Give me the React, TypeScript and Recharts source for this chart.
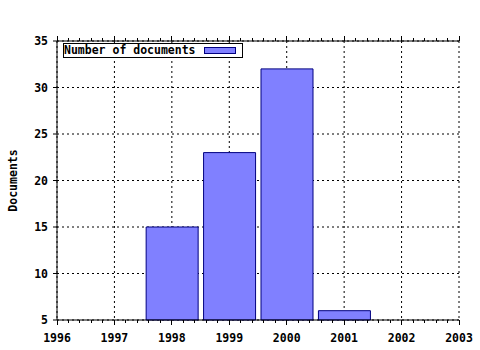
import { BarChart, Bar, XAxis, YAxis, CartesianGrid, Legend } from "recharts";

const years = [1998, 1999, 2000, 2001];
const documents = [15, 23, 32, 6];
const yearTicks = [1996, 1997, 1998, 1999, 2000, 2001, 2002, 2003];
const docTicks = [5, 10, 15, 20, 25, 30, 35];
const minorSteps = [0, 1, 2, 3, 4];

const data = years.map((year, i) => ({ year, documents: documents[i] }));
// major + 4 minor ticks per year for the framed axes
const frameTicks = yearTicks.flatMap((y, i) =>
  i === yearTicks.length - 1 ? [y] : minorSteps.map((k) => y + k / 5)
);

const font = {
  fontFamily: "'DejaVu Sans Mono', monospace",
  fontWeight: "bold" as const,
  fontSize: 11.5,
};

const BottomTick = (props: any) => {
  const { x, y, payload } = props;
  const major = Number.isInteger(payload.value);
  return (
    <g>
      <line x1={x} x2={x} y1={y} y2={y + (major ? 5 : 3)} stroke="#000" shapeRendering="crispEdges" />
      {major && (
        <text x={x} y={y + 21.5} textAnchor="middle" fill="#000" {...font}>
          {payload.value}
        </text>
      )}
    </g>
  );
};

const TopTick = (props: any) => {
  const { x, y, payload } = props;
  const major = Number.isInteger(payload.value);
  return (
    <line x1={x} x2={x} y1={y} y2={y - (major ? 5 : 3)} stroke="#000" shapeRendering="crispEdges" />
  );
};

const LegendBox = ({ payload }: any) => (
  <div
    style={{
      position: "relative",
      width: 180,
      height: 15,
      border: "1px solid #000",
      boxSizing: "border-box",
      background: "#fff",
      ...font,
    }}
  >
    {(payload || []).map((p: any) => (
      <div key={p.value}>
        <span style={{ position: "absolute", left: 0, top: 0, lineHeight: "13px", whiteSpace: "nowrap" }}>
          {p.value}
        </span>
        <span
          style={{
            position: "absolute",
            left: 140,
            top: 3,
            width: 32,
            height: 7,
            background: "#8080ff",
            border: "1px solid #000080",
            boxSizing: "border-box",
          }}
        />
      </div>
    ))}
  </div>
);

export default function App() {
  return (
    <div style={{ position: "absolute", left: 0, top: 0, background: "#fff" }}>
      <BarChart width={480} height={350} data={data} margin={{ top: 11, right: 21, left: 0, bottom: 0 }}>
        <XAxis xAxisId="x" dataKey="year" type="number" domain={[1996, 2003]} ticks={yearTicks} hide />
        <XAxis
          xAxisId="b"
          dataKey="year"
          type="number"
          domain={[1996, 2003]}
          ticks={frameTicks}
          interval={0}
          height={30}
          tickSize={0}
          tickMargin={0}
          tickLine={false}
          tick={<BottomTick />}
          axisLine={{ stroke: "#000" }}
        />
        <XAxis
          xAxisId="t"
          orientation="top"
          dataKey="year"
          type="number"
          domain={[1996, 2003]}
          ticks={frameTicks}
          interval={0}
          height={30}
          tickSize={0}
          tickMargin={0}
          tickLine={false}
          tick={<TopTick />}
          axisLine={{ stroke: "#000" }}
        />
        <YAxis
          yAxisId="y"
          type="number"
          domain={[5, 35]}
          ticks={docTicks}
          interval={0}
          width={57}
          tickSize={4}
          tickMargin={5}
          axisLine={{ stroke: "#000" }}
          tickLine={{ stroke: "#000" }}
          tick={{ fill: "#000", ...font }}
          label={{
            value: "Documents",
            angle: -90,
            position: "insideLeft",
            offset: 13,
            style: { textAnchor: "middle", fill: "#000", ...font },
          }}
        />
        <YAxis
          yAxisId="r"
          orientation="right"
          dataKey="documents"
          type="number"
          domain={[5, 35]}
          width={0}
          tick={false}
          tickLine={false}
          axisLine={{ stroke: "#000" }}
        />
        <CartesianGrid xAxisId="x" yAxisId="y" stroke="#000" strokeDasharray="2 3" />
        <Legend
          layout="horizontal"
          verticalAlign="middle"
          content={<LegendBox />}
          wrapperStyle={{ top: 43, left: 63, width: 180, height: 15 }}
        />
        <Bar
          xAxisId="x"
          yAxisId="y"
          dataKey="documents"
          name="Number of documents"
          fill="#8080ff"
          stroke="#000080"
          barSize={52}
          isAnimationActive={false}
        />
      </BarChart>
    </div>
  );
}
